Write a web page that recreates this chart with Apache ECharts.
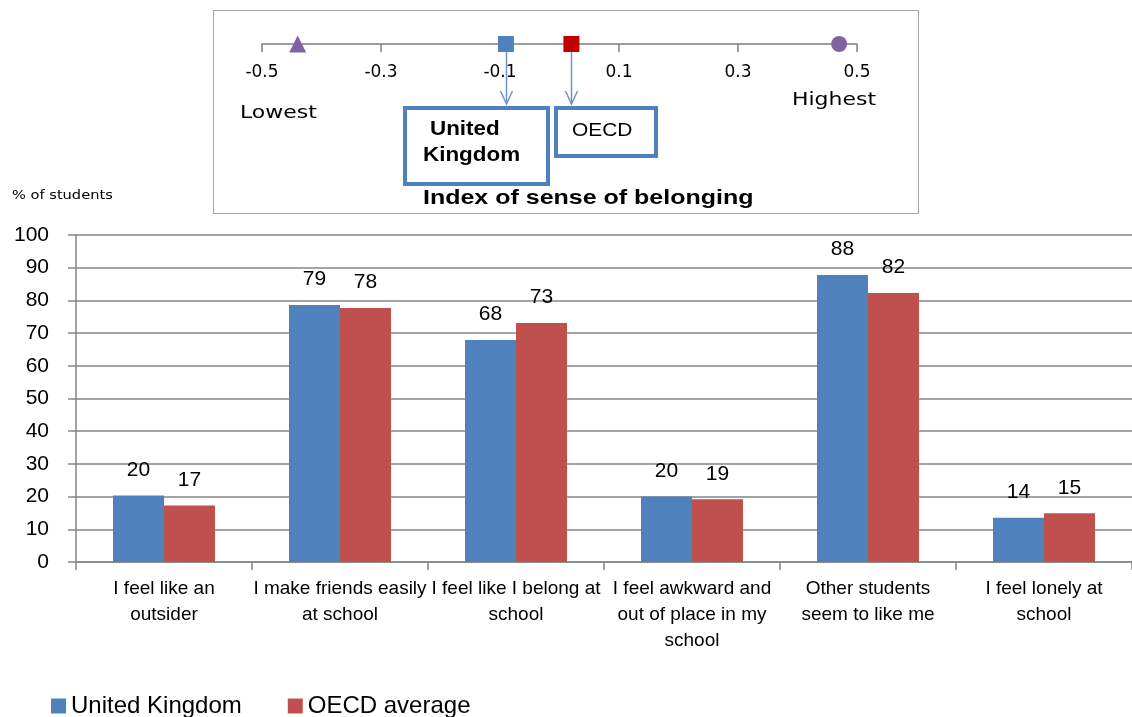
<!DOCTYPE html>
<html>
<head>
<meta charset="utf-8">
<script src="https://cdn.jsdelivr.net/npm/echarts@6/dist/echarts.min.js"></script>
<style>
  html, body { margin: 0; padding: 0; background: #fff; }
  #main { width: 1132px; height: 717px; }
</style>
</head>
<body>
<div id="main"></div>
<script>
// bar chart data
var categories = [
    'I feel like an\noutsider',
    'I make friends easily\nat school',
    'I feel like I belong at\nschool',
    'I feel awkward and\nout of place in my\nschool',
    'Other students\nseem to like me',
    'I feel lonely at\nschool'
];
var ukValues = [20.3, 78.6, 67.9, 20.0, 87.8, 13.5];
var oecdValues = [17.3, 77.7, 73.1, 19.2, 82.3, 14.9];

// index of sense of belonging (inset)
var indexTicks = [-0.5, -0.3, -0.1, 0.1, 0.3, 0.5];
var lowestValue = -0.44;
var ukIndex = -0.09;
var oecdIndex = 0.02;
var highestValue = 0.47;

var chartDom = document.getElementById('main');
var myChart = echarts.init(chartDom, null, { renderer: 'canvas' });
var option;

var catFont = 'Liberation Sans';

option = {
    animation: false,
    textStyle: { fontFamily: catFont },
    legend: {
        left: 46,
        bottom: -6,
        itemWidth: 15,
        itemHeight: 15,
        itemGap: 46,
        icon: 'rect',
        textStyle: { fontSize: 24, color: '#000', fontFamily: catFont },
        data: ['United Kingdom', 'OECD average']
    },
    grid: [
        { left: 76, right: -3, top: 235, bottom: 155 },
        { left: 262, width: 595, top: 34, height: 10 }
    ],
    xAxis: [
        {
            type: 'category',
            data: categories,
            gridIndex: 0,
            axisLine: { lineStyle: { color: '#868686', width: 1.5 } },
            axisTick: { show: true, length: 8, lineStyle: { color: '#868686', width: 1.5 } },
            axisLabel: {
                color: '#000',
                fontSize: 19,
                lineHeight: 26,
                margin: 14,
                interval: 0,
                fontFamily: catFont
            }
        },
        {
            type: 'value',
            gridIndex: 1,
            min: -0.5,
            max: 0.5,
            axisLine: { lineStyle: { color: '#7f7f7f', width: 1.5 } },
            axisTick: { show: true, length: 8, customValues: indexTicks, lineStyle: { color: '#7f7f7f', width: 1.5 } },
            axisLabel: {
                customValues: indexTicks,
                color: '#000',
                fontSize: 17,
                margin: 20,
                fontFamily: 'DejaVu Sans',
                formatter: function (v) { return String(Math.round(v * 10) / 10); }
            },
            splitLine: { show: false }
        }
    ],
    yAxis: [
        {
            type: 'value',
            gridIndex: 0,
            min: 0,
            max: 100,
            interval: 10,
            axisLine: { show: true, lineStyle: { color: '#868686', width: 1.5 } },
            axisTick: { show: true, length: 8, lineStyle: { color: '#868686', width: 1.5 } },
            axisLabel: { color: '#000', fontSize: 21, margin: 27, fontFamily: catFont },
            splitLine: { lineStyle: { color: '#868686', width: 1.5 } }
        },
        {
            type: 'value',
            gridIndex: 1,
            min: 0,
            max: 1,
            show: false
        }
    ],
    series: [
        {
            name: 'United Kingdom',
            type: 'bar',
            xAxisIndex: 0,
            yAxisIndex: 0,
            data: ukValues,
            barWidth: 51,
            barGap: '0%',
            itemStyle: { color: '#4F81BD' },
            label: {
                show: true,
                position: 'top',
                distance: 15,
                color: '#000',
                fontSize: 21,
                fontFamily: catFont,
                formatter: function (p) { return Math.round(p.value); }
            }
        },
        {
            name: 'OECD average',
            type: 'bar',
            xAxisIndex: 0,
            yAxisIndex: 0,
            data: oecdValues,
            barWidth: 51,
            barGap: '0%',
            itemStyle: { color: '#C0504D' },
            label: {
                show: true,
                position: 'top',
                distance: 15,
                color: '#000',
                fontSize: 21,
                fontFamily: catFont,
                formatter: function (p) { return Math.round(p.value); }
            }
        },
        {
            name: 'markers',
            type: 'scatter',
            xAxisIndex: 1,
            yAxisIndex: 1,
            z: 5,
            silent: true,
            itemStyle: { opacity: 1 },
            data: [
                { value: [lowestValue, 0], symbol: 'triangle', symbolSize: 17, itemStyle: { color: '#8064A2', opacity: 1 } },
                { value: [ukIndex, 0], symbol: 'rect', symbolSize: 16, itemStyle: { color: '#4F81BD', opacity: 1 } },
                { value: [oecdIndex, 0], symbol: 'rect', symbolSize: 16, itemStyle: { color: '#C00000', opacity: 1 } },
                { value: [highestValue, 0], symbol: 'circle', symbolSize: 16, itemStyle: { color: '#8064A2', opacity: 1 } }
            ]
        }
    ],
    graphic: [
        {
            type: 'rect', z: -10,
            shape: { x: 213.5, y: 10.5, width: 705, height: 203 },
            style: { fill: '#fff', stroke: '#a6a6a6', lineWidth: 1 }
        },
        {
            type: 'text', x: 12, y: 189, scaleX: 1.25,
            style: { text: '% of students', fontSize: 13, fill: '#000', fontFamily: 'DejaVu Sans Condensed' }
        },
        {
            type: 'text', x: 240, y: 104, scaleX: 1.22,
            style: { text: 'Lowest', fontSize: 18, fill: '#000', fontFamily: 'DejaVu Sans' }
        },
        {
            type: 'text', x: 792, y: 91, scaleX: 1.22,
            style: { text: 'Highest', fontSize: 18, fill: '#000', fontFamily: 'DejaVu Sans' }
        },
        {
            type: 'rect',
            shape: { x: 405, y: 108, width: 143, height: 76 },
            style: { fill: '#fff', stroke: '#4F81BD', lineWidth: 4 }
        },
        {
            type: 'text', x: 430, y: 119, scaleX: 1.12,
            style: { text: 'United', fontSize: 20, fontWeight: 'bold', fill: '#000', fontFamily: catFont }
        },
        {
            type: 'text', x: 423, y: 145, scaleX: 1.12,
            style: { text: 'Kingdom', fontSize: 20, fontWeight: 'bold', fill: '#000', fontFamily: catFont }
        },
        {
            type: 'rect',
            shape: { x: 556, y: 108, width: 100, height: 48 },
            style: { fill: '#fff', stroke: '#4F81BD', lineWidth: 4 }
        },
        {
            type: 'text', x: 572, y: 121, scaleX: 1.1,
            style: { text: 'OECD', fontSize: 19, fill: '#000', fontFamily: catFont }
        },
        {
            type: 'text', x: 423, y: 188, scaleX: 1.19,
            style: { text: 'Index of sense of belonging', fontSize: 21, fontWeight: 'bold', fill: '#000', fontFamily: catFont }
        }
    ]
};

option && myChart.setOption(option);

// arrows from the UK / OECD markers down to their boxes
var arrows = [];
[ukIndex, oecdIndex].forEach(function (v, i) {
    var p = myChart.convertToPixel({ gridIndex: 1 }, [v, 0]);
    var x = Math.round(p[0]) + 0.5;
    var y0 = p[1] + 8;
    var y1 = 104;
    arrows.push({
        type: 'polyline', z: 10,
        shape: { points: [[x, y0], [x, y1]] },
        style: { stroke: '#6f95c8', lineWidth: 1.5, fill: null }
    });
    arrows.push({
        type: 'polyline', z: 10,
        shape: { points: [[x - 6, y1 - 13], [x, y1], [x + 6, y1 - 13]] },
        style: { stroke: '#6f95c8', lineWidth: 1.5, fill: null }
    });
});
myChart.setOption({ graphic: option.graphic.concat(arrows) });
</script>
</body>
</html>
